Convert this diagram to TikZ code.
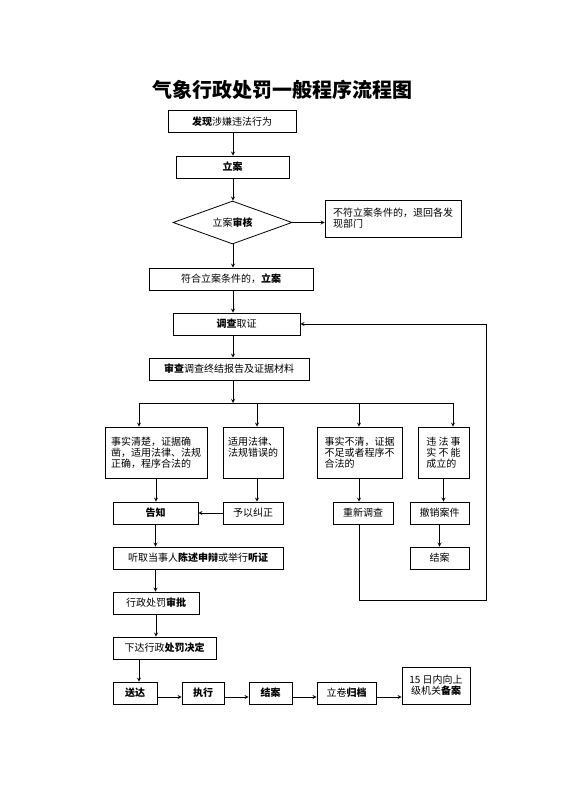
\documentclass[tikz,border=0pt]{standalone}
\usepackage{fontspec}
\setmainfont{Noto Sans CJK SC}
\usetikzlibrary{shapes.geometric}
\tikzset{bx/.style = {rectangle, draw, line width=0.8pt, minimum height=22, inner sep=2pt, font=\fontsize{10}{11}\selectfont},
           tb/.style = {bx, minimum height=51, align=left},
           dm/.style = {diamond, draw, line width=0.8pt, aspect=2.8, minimum width=119, minimum height=43, inner sep=0pt, font=\fontsize{10}{11}\selectfont},
           ar/.style = {->, line width=0.8pt}}

\begin{document}
\begin{tikzpicture}[x=1pt, y=-1pt, >=stealth]
    \useasboundingbox (0,0) rectangle (560,792);
    \node (tt) at (282.5,90) {\fontsize{20}{24}\selectfont\bfseries 气象行政处罚一般程序流程图};
    \coordinate (m) at (233,0);
    \node[bx, minimum width=128] (fx) at (232,121.5) {{\bfseries 发现}涉嫌违法行为};
    \node[bx, minimum width=113] (la) at (232.5,167) {\bfseries 立案};
    \node[dm] (sh) at (232.5,222.5) {立案{\bfseries 审核}};
    \node[bx, minimum width=136, minimum height=37, align=left] (bf) at (393,218.5) {不符立案条件的，退回各发\\现部门\hspace{5.5em}};
    \node[bx, minimum width=164] (fh) at (231,279) {符合立案条件的，{\bfseries 立案}};
    \node[bx, minimum width=127] (dc) at (236.5,324) {{\bfseries 调查}取证};
    \node[bx, minimum width=160] (sc) at (229,369) {{\bfseries 审查}调查终结报告及证据材料};
    \coordinate (br) at (233,403);
    \coordinate (d1) at (139,403); \coordinate (d2) at (257,403);
    \coordinate (d3) at (359,403); \coordinate (d4) at (453,403);
    \node[tb, minimum width=102] (ka) at (156,452.5) {事实清楚，证据确\\凿，适用法律、法规\\正确，程序合法的};
    \node[tb, minimum width=60] (kb) at (253,452.5) {适用法律、\\法规错误的\\\mbox{}};
    \node[tb, minimum width=85] (kc) at (359.5,452.5) {事实不清，证据\\不足或者程序不\\合法的};
    \node[tb, minimum width=51] (kd) at (443.5,452.5) {违\ 法\ 事\\实\ 不\ 能\\成立的};
    \node[bx, minimum width=85] (gz) at (155.5,513) {\bfseries 告知};
    \node[bx, minimum width=60] (yj) at (253,513) {予以纠正};
    \node[bx, minimum width=60] (cx) at (363,513) {重新调查};
    \node[bx, minimum width=59] (cc) at (439.5,513) {撤销案件};
    \node[bx, minimum width=59] (ja) at (439.5,558) {结案};
    \node[bx, minimum width=170] (tq) at (198,558) {听取当事人{\bfseries 陈述申辩}或举行{\bfseries 听证}};
    \node[bx, minimum width=86] (sp) at (156,603) {行政处罚{\bfseries 审批}};
    \node[bx, minimum width=103] (xd) at (164.5,648) {下达行政{\bfseries 处罚决定}};
    \coordinate (ay) at (0,697);
    \node[bx, minimum width=44] (sd) at (135,693) {\bfseries 送达};
    \node[bx, minimum width=42] (zx) at (203,693) {\bfseries 执行};
    \node[bx, minimum width=43] (jb) at (270.5,693) {\bfseries 结案};
    \node[bx, minimum width=59] (gd) at (346.5,693) {立卷{\bfseries 归档}};
    \node[bx, minimum width=68, minimum height=37, align=center] (ba) at (436,685.5) {15 日内向上\\级机关{\bfseries 备案}};
    \coordinate (lp) at (486,600);
    % main line
    \draw[ar] (m |- fx.south) -- (m |- la.north);
    \draw[ar] (m |- la.south) -- (m |- sh.north);
    \draw[ar] (sh.east) -- (sh.east -| bf.west);
    \draw[ar] (m |- sh.south) -- (m |- fh.north);
    \draw[ar] (m |- fh.south) -- (m |- dc.north);
    \draw[ar] (m |- dc.south) -- (m |- sc.north);
    \draw[ar] (m |- sc.south) -- (br);
    \draw[line width=0.8pt] (d1) -- (d4);
    \draw[ar] (d1) -- (d1 |- ka.north);
    \draw[ar] (d2) -- (d2 |- kb.north);
    \draw[ar] (d3) -- (d3 |- kc.north);
    \draw[ar] (d4) -- (d4 |- kd.north);
    \draw[ar] (ka.south) -- (ka.south |- gz.north);
    \draw[ar] (d2 |- kb.south) -- (d2 |- yj.north);
    \draw[ar] (yj.west) -- (yj.west -| gz.east);
    \draw[ar] (d3 |- kc.south) -- (d3 |- cx.north);
    \draw[ar] (kd.south) -- (kd.south |- cc.north);
    \draw[ar] (cc.south) -- (ja.north);
    % back to investigation
    \draw[ar] (d3 |- cx.south) |- (lp) |- (dc.east);
    \draw[ar] (gz.south) -- (gz.south |- tq.north);
    \draw[ar] (gz.south |- tq.south) -- (gz.south |- sp.north);
    \draw[ar] (sp.south) -- (sp.south |- xd.north);
    \draw[ar] ([xshift=4pt]sd.north |- xd.south) -- ([xshift=4pt]sd.north);
    \draw[ar] (sd.east |- ay) -- (zx.west |- ay);
    \draw[ar] (zx.east |- ay) -- (jb.west |- ay);
    \draw[ar] (jb.east |- ay) -- (gd.west |- ay);
    \draw[ar] (gd.east |- ay) -- (ba.west |- ay);
\end{tikzpicture}
\end{document}
